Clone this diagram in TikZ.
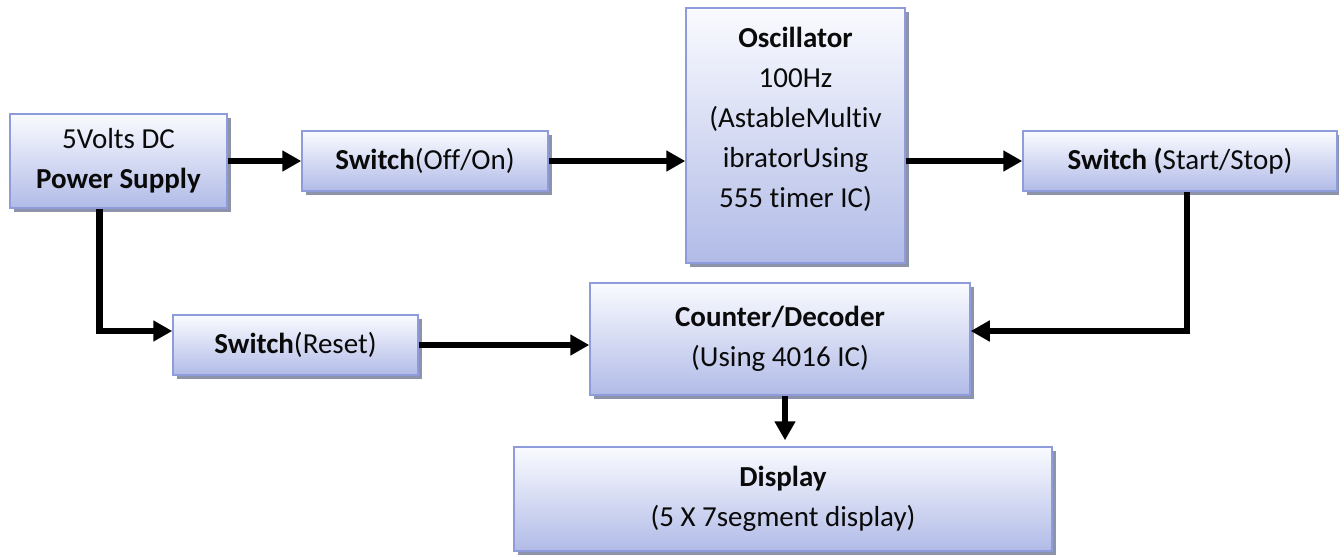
\documentclass[tikz,border=0pt]{standalone}
\usepackage{fontspec}
\setmainfont[Ligatures=NoCommon]{Carlito}
\usetikzlibrary{arrows.meta,shadows,calc}
\definecolor{boxtop}{HTML}{FAFBFF}
\definecolor{boxbot}{HTML}{B1BBE7}
\definecolor{boxline}{HTML}{8E9CDC}
\definecolor{boxshadow}{HTML}{8D93A9}
\definecolor{ink}{HTML}{0A0A0A}
\tikzset{
  block/.style={rectangle, draw=boxline, line width=1.5pt,
    top color=boxtop, bottom color=boxbot, inner sep=0pt,
    drop shadow={shadow xshift=3.5pt, shadow yshift=-3.5pt, fill=boxshadow, opacity=1},
    align=center, text=ink, font=\fontsize{29}{40}\selectfont},
  link/.style={line width=6.5pt, line join=miter,
    -{Triangle[length=19pt,width=20pt]}},
}
\begin{document}
\begin{tikzpicture}[x=1pt,y=1pt]
\useasboundingbox (0,0) rectangle (1339,-555);

% blocks
\node[block, minimum width=217, minimum height=94] (pwr) at (118.5,-161)
  {5Volts DC\\\textbf{Power Supply}};
\node[block, minimum width=246, minimum height=60] (sw1) at (425,-161)
  {\textbf{Switch}(Off/On)};
\node[block, minimum width=219, minimum height=255] (osc) at (795.5,-135.5) {};
\node[align=center, text=ink, font=\fontsize{29}{40}\selectfont, anchor=north, inner sep=0pt]
  (osctxt) at ([yshift=-20]osc.north)
  {\textbf{Oscillator}\\100Hz\\(AstableMultiv\\ibratorUsing\\555 timer IC)};
\node[block, minimum width=314, minimum height=60] (sw2) at (1180,-161)
  {\textbf{Switch (}Start/Stop)};
\node[block, minimum width=245, minimum height=60] (rst) at (295.5,-345)
  {\textbf{Switch}(Reset)};
\node[block, minimum width=380, minimum height=112] (cnt) at (780,-339)
  {\textbf{Counter/Decoder}\\(Using 4016 IC)};
\node[block, minimum width=538, minimum height=104] (dsp) at (783,-499)
  {\textbf{Display}\\(5 X 7segment display)};

% connectors
\draw[link] (pwr.east) -- (sw1.west);
\draw[link] (sw1.east) -- (sw1.east -| osc.west);
\draw[link] (osc.east |- sw2.west) -- (sw2.west);
\coordinate (sw2out) at ([xshift=7]sw2.south);
\coordinate (cntin) at ([yshift=8]cnt.east);
\draw[link] (sw2out) |- (cntin);
\coordinate (pwrout) at ([xshift=-19]pwr.south);
\coordinate (rstin) at ([yshift=14]rst.west);
\draw[link] (pwrout) |- (rstin);
\draw[link] (rst.east) -- (rst.east -| cnt.west);
\coordinate (cntout) at ([xshift=5]cnt.south);
\draw[link, shorten >=6pt] (cntout) -- (cntout |- dsp.north);
\end{tikzpicture}
\end{document}
